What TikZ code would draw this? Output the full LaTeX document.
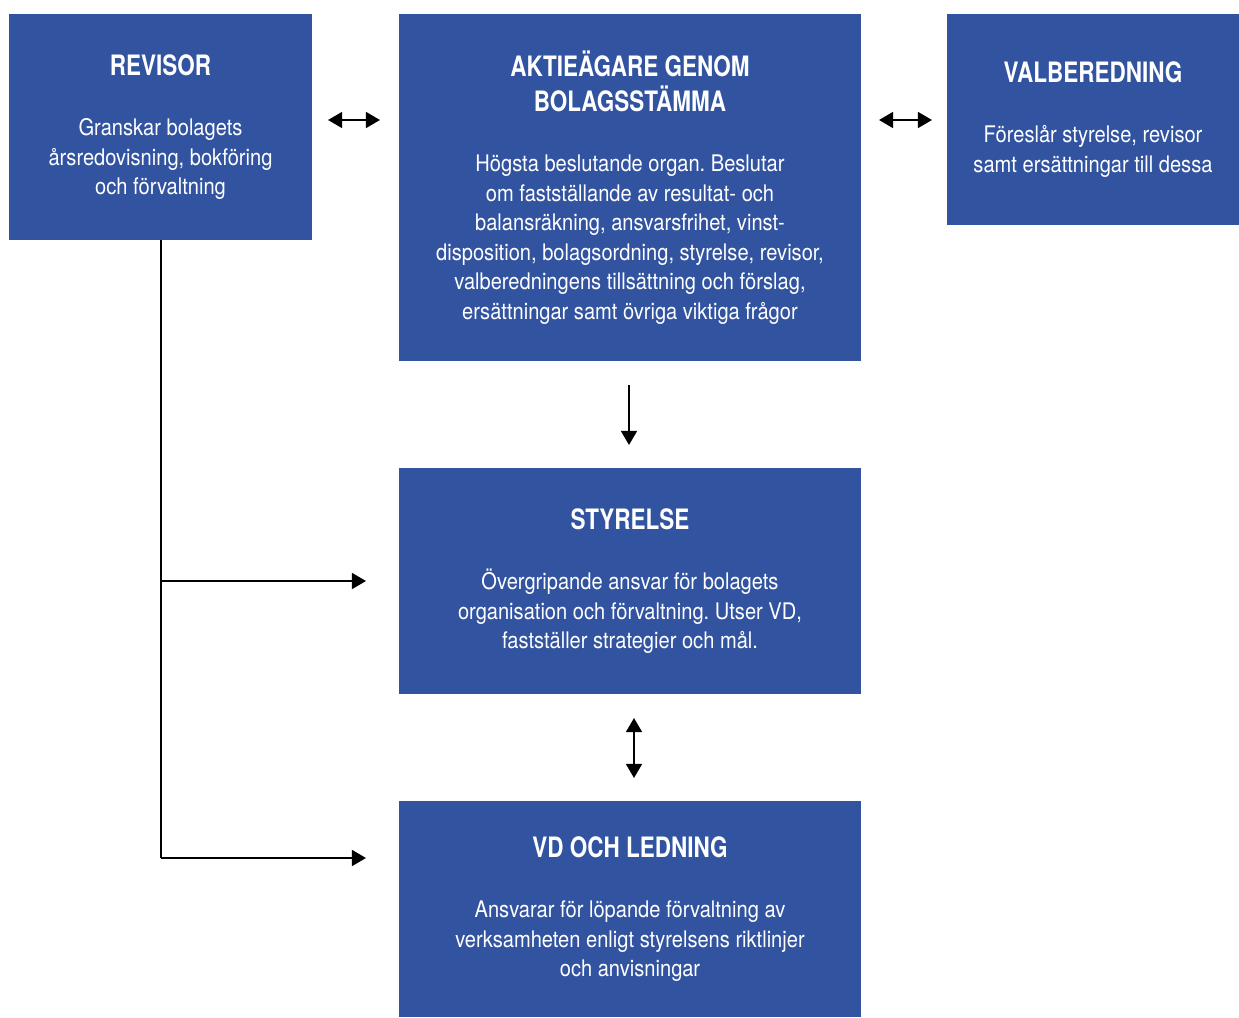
\documentclass[tikz,border=0pt]{standalone}
\usepackage{fontspec}
\setmainfont[FakeStretch=0.88,BoldFeatures={FakeStretch=0.8}]{TeX Gyre Heros}
\usepackage{tikz}
\usetikzlibrary{arrows.meta,shapes}
\definecolor{boxblue}{HTML}{3153A0}
\frenchspacing

\begin{document}
\begin{tikzpicture}[x=0.02cm, y=-0.02cm,
  box/.style={fill=boxblue, text=white, align=center, inner sep=0pt, font=\fontsize{13}{16.8}\selectfont},
  conn/.style={line width=1.2pt, -{Triangle[length=8pt,width=9pt]}},
  dconn/.style={line width=1.2pt, {Triangle[length=8pt,width=9pt]}-{Triangle[length=8pt,width=9pt]}}]
  \useasboundingbox (0,0) rectangle (1239,1017);
  \node[box, minimum width=303*0.02cm, minimum height=226*0.02cm] (rev) at (160.5,127)
    {\textbf{\fontsize{16}{19.8}\selectfont REVISOR}\\[17.5pt]
     Granskar bolagets\\ årsredovisning, bokföring\\ och förvaltning};
  \node[box, minimum width=462*0.02cm, minimum height=347*0.02cm] (agm) at (630,187.5)
    {\textbf{\fontsize{16}{19.8}\selectfont AKTIEÄGARE GENOM}\\[3.1pt]
     \textbf{\fontsize{16}{19.8}\selectfont BOLAGSSTÄMMA}\\[17.5pt]
     Högsta beslutande organ. Beslutar\\
     om fastställande av resultat- och\\
     balansräkning, ansvarsfrihet, vinst-\\
     disposition, bolagsordning, styrelse, revisor,\\
     valberedningens tillsättning och förslag,\\
     ersättningar samt övriga viktiga frågor};
  \node[box, minimum width=292*0.02cm, minimum height=211*0.02cm] (val) at (1093,119.5)
    {\textbf{\fontsize{16}{19.8}\selectfont VALBEREDNING}\\[17.5pt]
     Föreslår styrelse, revisor\\ samt ersättningar till dessa};
  \node[box, minimum width=462*0.02cm, minimum height=226*0.02cm] (sty) at (630,581)
    {\textbf{\fontsize{16}{19.8}\selectfont STYRELSE}\\[17.5pt]
     Övergripande ansvar för bolagets\\
     organisation och förvaltning. Utser VD,\\
     fastställer strategier och mål.};
  \node[box, minimum width=462*0.02cm, minimum height=216*0.02cm] (vd) at (630,909)
    {\textbf{\fontsize{16}{19.8}\selectfont VD OCH LEDNING}\\[17.5pt]
     Ansvarar för löpande förvaltning av\\
     verksamheten enligt styrelsens riktlinjer\\
     och anvisningar};
  \coordinate (a1) at (328,120);
  \coordinate (a2) at (380,120);
  \coordinate (b1) at (879,120);
  \coordinate (b2) at (932,120);
  \coordinate (c1) at (629,385);
  \coordinate (c2) at (629,445);
  \coordinate (d1) at (634,718);
  \coordinate (d2) at (634,778);
  \coordinate (e1) at (161,581);
  \coordinate (e2) at (366,581);
  \coordinate (f1) at (161,858);
  \coordinate (f2) at (366,858);
  \draw[dconn] (a1) -- (a2);
  \draw[dconn] (b1) -- (b2);
  \draw[conn] (c1) -- (c2);
  \draw[dconn] (d1) -- (d2);
  \draw[line width=1.2pt] (rev.south -| f1) -- (f1);
  \draw[conn] (e1) -- (e2);
  \draw[conn] (f1) -- (f2);
\end{tikzpicture}
\end{document}
